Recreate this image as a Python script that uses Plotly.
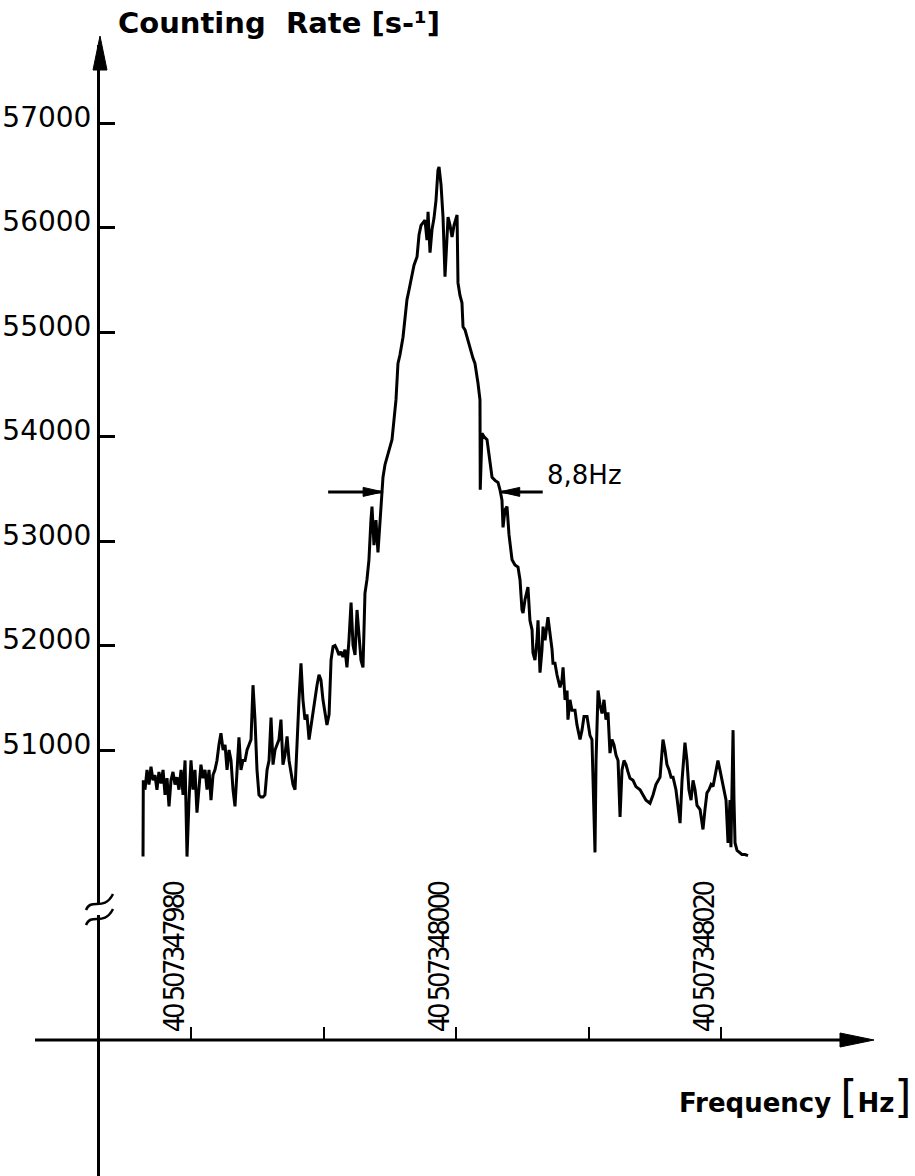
import plotly.graph_objects as go

# ---------------------------------------------------------------------------
# Resonance scan: counting rate versus frequency around 40 507 348 000 Hz
# ---------------------------------------------------------------------------
F_REF_HZ = 40507348000  # reference frequency, detuning is measured from here

DETUNING_HZ = [
    -23.62, -23.60, -23.47, -23.32, -23.17, -23.02, -22.87, -22.72, -22.57, -22.42,
    -22.26, -22.11, -21.96, -21.81, -21.66, -21.51, -21.36, -21.21, -21.06, -20.91,
    -20.75, -20.60, -20.45, -20.30, -20.15, -20.00, -19.85, -19.70, -19.55, -19.40,
    -19.25, -19.09, -18.94, -18.79, -18.64, -18.49, -18.34, -18.19, -18.04, -17.89,
    -17.74, -17.58, -17.43, -17.28, -17.13, -16.98, -16.83, -16.68, -16.53, -16.38,
    -16.23, -16.08, -15.92, -15.77, -15.62, -15.47, -15.32, -15.17, -15.02, -14.87,
    -14.72, -14.57, -14.42, -14.26, -14.11, -13.96, -13.81, -13.66, -13.51, -13.36,
    -13.21, -13.06, -12.91, -12.75, -12.60, -12.45, -12.30, -12.15, -12.00, -11.85,
    -11.70, -11.55, -11.40, -11.25, -11.09, -10.94, -10.79, -10.64, -10.49, -10.34,
    -10.19, -10.04, -9.89, -9.74, -9.58, -9.43, -9.28, -9.13, -8.98, -8.83,
    -8.68, -8.53, -8.38, -8.23, -8.08, -7.92, -7.77, -7.62, -7.47, -7.32,
    -7.17, -7.02, -6.87, -6.72, -6.57, -6.42, -6.34, -6.19, -6.04, -5.89,
    -5.74, -5.58, -5.51, -5.36, -5.13, -4.98, -4.83, -4.68, -4.53, -4.38,
    -4.23, -4.00, -3.85, -3.70, -3.55, -3.32, -3.17, -2.94, -2.79, -2.64,
    -2.49, -2.34, -2.19, -2.11, -1.96, -1.81, -1.66, -1.51, -1.36, -1.28,
    -1.13, -0.98, -0.83, -0.68, -0.60, -0.45, -0.30, -0.15, 0.08, 0.15,
    0.30, 0.45, 0.53, 0.68, 0.83, 0.98, 1.13, 1.28, 1.43, 1.58,
    1.66, 1.81, 1.83, 1.96, 2.11, 2.34, 2.49, 2.72, 2.94, 3.17,
    3.32, 3.47, 3.55, 3.70, 3.85, 4.00, 4.23, 4.45, 4.68, 4.83,
    4.98, 5.06, 5.21, 5.36, 5.43, 5.58, 5.74, 5.81, 5.96, 6.11,
    6.19, 6.34, 6.49, 6.57, 6.72, 6.94, 7.09, 7.25, 7.32, 7.47,
    7.62, 7.85, 8.00, 8.08, 8.23, 8.38, 8.45, 8.60, 8.75, 8.98,
    9.13, 9.36, 9.51, 9.66, 9.89, 10.11, 10.26, 10.49, 10.57, 10.72,
    10.87, 11.02, 11.17, 11.32, 11.47, 11.62, 11.77, 11.92, 12.08, 12.23,
    12.38, 12.53, 12.68, 12.83, 12.98, 13.13, 13.36, 13.58, 13.89, 14.11,
    14.34, 14.64, 14.87, 15.09, 15.25, 15.40, 15.62, 15.77, 15.92, 16.08,
    16.23, 16.38, 16.60, 16.75, 16.91, 17.06, 17.28, 17.43, 17.58, 17.74,
    17.89, 18.04, 18.19, 18.42, 18.57, 18.64, 18.79, 18.94, 19.09, 19.25,
    19.40, 19.62, 19.77, 19.92, 20.08, 20.23, 20.38, 20.53, 20.68, 20.75,
    20.91, 20.98, 21.06, 21.21, 21.36, 21.58, 21.81, 22.04,
]

COUNT_RATE = [
    49980, 50710, 50620, 50810, 50670, 50840, 50710, 50760, 50620, 50790,
    50680, 50810, 50570, 50730, 50460, 50710, 50790, 50670, 50740, 50620,
    50810, 50570, 50900, 49980, 50520, 50900, 50620, 50810, 50400, 50670,
    50860, 50730, 50810, 50620, 50810, 50520, 50760, 50810, 50900, 51050,
    51160, 51000, 51050, 50810, 51000, 50900, 50620, 50460, 50860, 51120,
    50810, 50900, 50900, 51000, 51050, 51100, 51620, 51290, 50810, 50570,
    50550, 50550, 50570, 50810, 50900, 51310, 50860, 51000, 51050, 51100,
    51290, 50860, 50950, 51130, 50900, 50760, 50670, 50620, 51100, 51480,
    51830, 51480, 51290, 51340, 51100, 51240, 51340, 51480, 51620, 51720,
    51670, 51480, 51340, 51240, 51340, 51860, 51990, 52000, 51960, 51910,
    51940, 51890, 51960, 51790, 52050, 52410, 52000, 51910, 52340, 52050,
    51860, 51790, 52500, 52630, 52820, 53200, 53330, 52960, 53200, 52890,
    53200, 53460, 53610, 53730, 53840, 53900, 53970, 54160, 54350, 54700,
    54780, 54950, 55160, 55310, 55400, 55570, 55640, 55720, 55930, 56020,
    56050, 56070, 55880, 56150, 55760, 55980, 56090, 56260, 56550, 56580,
    56410, 56100, 55530, 55880, 56100, 56020, 55910, 56020, 56120, 55470,
    55350, 55280, 55050, 55020, 54950, 54880, 54830, 54750, 54700, 54590,
    54510, 54350, 53490, 54030, 54000, 53970, 53820, 53610, 53580, 53560,
    53490, 53390, 53130, 53300, 53330, 53060, 52820, 52770, 52750, 52630,
    52340, 52310, 52440, 52530, 52560, 52240, 52150, 51930, 51860, 52050,
    52240, 51740, 51960, 52180, 52050, 52270, 52120, 51960, 51830, 51830,
    51720, 51600, 51670, 51790, 51480, 51570, 51290, 51480, 51380, 51380,
    51240, 51100, 51190, 51320, 51320, 51140, 51100, 50020, 50900, 51570,
    51430, 51350, 51480, 51290, 51360, 50970, 51100, 51050, 50950, 50900,
    50360, 50810, 50900, 50860, 50790, 50730, 50710, 50650, 50620, 50570,
    50520, 50490, 50570, 50670, 50710, 50740, 51100, 51000, 50860, 50810,
    50740, 50740, 50620, 50470, 50300, 50710, 51070, 50900, 50620, 50520,
    50710, 50620, 50470, 50430, 50280, 50240, 50430, 50590, 50620, 50670,
    50650, 50810, 50900, 50810, 50710, 50620, 50520, 50110, 50520, 50070,
    51190, 50520, 50110, 50040, 50020, 50000, 50000, 49990,
]
assert len(DETUNING_HZ) == len(COUNT_RATE)

# axis ticks
Y_TICKS = [51000, 52000, 53000, 54000, 55000, 56000, 57000]
Y_TICK_TEXT = ["51000", "52000", "53000", "54000", "55000", "56000", "57000"]
X_TICKS = [-20, -10, 0, 10, 20]
X_TICK_TEXT = ["40 507347980", "", "40 507348000", "", "40 507348020"]

# full width at half maximum marker
HALF_MAX = 53470
FWHM_LEFT = -5.5
FWHM_RIGHT = 3.3
FWHM_LABEL = "8,8Hz"

# ---------------------------------------------------------------------------
# page geometry (pixels)
# ---------------------------------------------------------------------------
W, H = 915, 1176
ML, MT = 100, 45
PW, PH = W - ML, H - MT
PX_PER_HZ = 13.25
ZERO_PX = 456          # horizontal pixel of zero detuning
PX_PER_COUNT = 0.1045
TOP_TICK_PX = 123      # vertical pixel of the 57000 tick
X_AXIS_PX = 1040       # vertical pixel of the frequency axis

x_range = [(ML - ZERO_PX) / PX_PER_HZ, (W - ZERO_PX) / PX_PER_HZ]
y_range = [57000 - (H - TOP_TICK_PX) / PX_PER_COUNT,
           57000 + (TOP_TICK_PX - MT) / PX_PER_COUNT]


def px(x):
    return (x - ML) / PW


def py(y):
    return (H - y) / PH


def tri(points):
    return "M " + " L ".join(f"{px(a)},{py(b)}" for a, b in points) + " Z"


def tight(label):
    # compress the long frequency labels a little
    return f"<span style='letter-spacing:-3.5px'>{label}</span>" if label else ""


fig = go.Figure()
fig.add_trace(go.Scatter(
    x=DETUNING_HZ, y=COUNT_RATE, mode="lines",
    line=dict(color="black", width=3), hoverinfo="skip", showlegend=False,
))

BLACK = "black"
shapes = []
# frequency axis with arrow
shapes.append(dict(type="line", xref="paper", yref="paper",
                   x0=px(35), x1=px(850), y0=py(X_AXIS_PX), y1=py(X_AXIS_PX),
                   line=dict(color=BLACK, width=3)))
shapes.append(dict(type="path", xref="paper", yref="paper",
                   path=tri([(874, X_AXIS_PX), (840, X_AXIS_PX - 7), (840, X_AXIS_PX + 7)]),
                   fillcolor=BLACK, line=dict(color=BLACK, width=1)))
# arrow on top of the counting-rate axis
shapes.append(dict(type="path", xref="paper", yref="paper",
                   path=tri([(100, 36), (93, 70), (107, 70)]),
                   fillcolor=BLACK, line=dict(color=BLACK, width=1)))
# axis break
shapes.append(dict(type="rect", xref="paper", yref="paper",
                   x0=px(94), x1=px(106), y0=py(915), y1=py(903),
                   fillcolor="white", line=dict(width=0)))
for dy in (0, 15):
    y0 = 910 + dy
    shapes.append(dict(
        type="path", xref="paper", yref="paper",
        path=(f"M {px(86)},{py(y0)} C {px(91)},{py(y0 - 13)} "
              f"{px(104)},{py(y0 + 2)} {px(113)},{py(y0 - 16)}"),
        line=dict(color=BLACK, width=2.5)))

# FWHM arrows (data coordinates)
head_len = 20 / PX_PER_HZ
head_half = 4.5 / PX_PER_COUNT
left_tail = FWHM_LEFT - 55 / PX_PER_HZ
right_tail = FWHM_RIGHT + 43 / PX_PER_HZ
shapes.append(dict(type="line", xref="x", yref="y", x0=left_tail, x1=FWHM_LEFT - 2 / PX_PER_HZ,
                   y0=HALF_MAX, y1=HALF_MAX, line=dict(color=BLACK, width=3)))
shapes.append(dict(type="path", xref="x", yref="y",
                   path=(f"M {FWHM_LEFT},{HALF_MAX} L {FWHM_LEFT - head_len},{HALF_MAX + head_half} "
                         f"L {FWHM_LEFT - head_len},{HALF_MAX - head_half} Z"),
                   fillcolor=BLACK, line=dict(color=BLACK, width=1)))
shapes.append(dict(type="line", xref="x", yref="y", x0=right_tail, x1=FWHM_RIGHT + 2 / PX_PER_HZ,
                   y0=HALF_MAX, y1=HALF_MAX, line=dict(color=BLACK, width=3)))
shapes.append(dict(type="path", xref="x", yref="y",
                   path=(f"M {FWHM_RIGHT},{HALF_MAX} L {FWHM_RIGHT + head_len},{HALF_MAX + head_half} "
                         f"L {FWHM_RIGHT + head_len},{HALF_MAX - head_half} Z"),
                   fillcolor=BLACK, line=dict(color=BLACK, width=1)))

annotations = [
    dict(text="Counting  Rate [s-\u00b9]", xref="paper", yref="paper",
         x=px(116), y=py(23), xanchor="left", yanchor="middle", showarrow=False,
         font=dict(family="DejaVu Sans", size=29, color=BLACK, weight="bold")),
    dict(text=("Frequency <span style='font-size:44px;font-weight:normal'>[</span>Hz"
               "<span style='font-size:44px;font-weight:normal'>]</span>"),
         xref="paper", yref="paper", x=px(913), y=py(1096), xanchor="right", yanchor="middle",
         showarrow=False, font=dict(family="DejaVu Sans", size=26, color=BLACK, weight="bold")),
    dict(text=FWHM_LABEL, xref="x", yref="y", x=right_tail + 2 / PX_PER_HZ, y=HALF_MAX,
         xanchor="left", yanchor="middle", yshift=17, showarrow=False,
         font=dict(family="DejaVu Sans", size=26, color=BLACK)),
]

fig.update_layout(
    width=W, height=H,
    margin=dict(l=ML, r=0, t=MT, b=0, pad=0),
    paper_bgcolor="white", plot_bgcolor="white",
    showlegend=False,
    shapes=shapes, annotations=annotations,
    xaxis=dict(
        range=x_range, anchor="free", position=py(X_AXIS_PX), side="top",
        showline=False, showgrid=False, zeroline=False,
        tickmode="array", tickvals=X_TICKS, ticktext=[tight(t) for t in X_TICK_TEXT],
        ticks="outside", ticklen=13, tickwidth=2, tickcolor=BLACK,
        tickangle=-90, ticklabelshift=-16, ticklabelstandoff=-11,
        tickfont=dict(family="DejaVu Sans Condensed", size=29, color=BLACK),
    ),
    yaxis=dict(
        range=y_range, showline=True, linewidth=3, linecolor=BLACK,
        showgrid=False, zeroline=False,
        tickmode="array", tickvals=Y_TICKS, ticktext=Y_TICK_TEXT,
        ticks="inside", ticklen=15, tickwidth=3, tickcolor=BLACK,
        ticklabelshift=-6,
        tickfont=dict(family="DejaVu Sans", size=28, color=BLACK),
    ),
)

fig.write_html("out.html")
